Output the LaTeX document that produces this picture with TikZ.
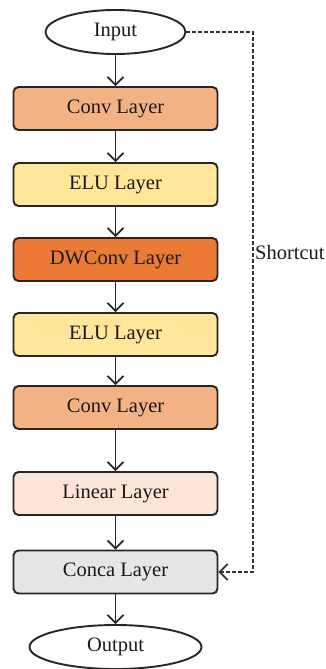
\documentclass[tikz,border=0pt]{standalone}
\usepackage{fontspec}
\setmainfont{Liberation Serif}
\usetikzlibrary{arrows.meta,shapes.geometric}
\definecolor{convc}{HTML}{F4B183}
\definecolor{eluc}{HTML}{FFE699}
\definecolor{dwc}{HTML}{EC7A34}
\definecolor{linc}{HTML}{FBE5D6}
\definecolor{concc}{HTML}{E6E6E6}
\tikzset{
  txt/.style={font=\fontsize{20.5}{24}\selectfont, text=black!90},
  layer/.style={txt, draw=black!85, line width=1.9pt, rounded corners=5pt, minimum width=204pt, minimum height=43pt, inner sep=0pt},
  term/.style={txt, draw=black!85, line width=1.9pt, ellipse, inner sep=0pt},
  flow/.style={line width=1.7pt, draw=black!85, -{Straight Barb[length=8pt,width=16pt,line width=1.7pt]}},
  short/.style={line width=1.7pt, draw=black!80, dash pattern=on 4pt off 2pt, -{Straight Barb[length=8pt,width=16pt,line width=1.7pt]}}
}
\begin{document}
\begin{tikzpicture}[x=1pt,y=-1pt]
\useasboundingbox (0,0) rectangle (325,669);
\node[term, minimum width=140pt, minimum height=44pt] (in) at (115.5,32) {Input};
\node[layer, fill=convc] (c1) at (115.5,108.5) {Conv Layer};
\node[layer, fill=eluc] (e1) at (115.5,184.5) {ELU Layer};
\node[layer, fill=dwc] (dw) at (115.5,259.5) {DWConv Layer};
\node[layer, fill=eluc] (e2) at (115.5,334.5) {ELU Layer};
\node[layer, fill=convc] (c2) at (115.5,407.5) {Conv Layer};
\node[layer, fill=linc] (li) at (115.5,493.5) {Linear Layer};
\node[layer, fill=concc] (cc) at (115.5,572) {Conca Layer};
\node[term, minimum width=172pt, minimum height=44pt] (out) at (115.5,647) {Output};
\draw[flow] (in) -- (c1);
\draw[flow] (c1) -- (e1);
\draw[flow] (e1) -- (dw);
\draw[flow] (dw) -- (e2);
\draw[flow] (e2) -- (c2);
\draw[flow] (c2) -- (li);
\draw[flow] (li) -- (cc);
\draw[flow] (cc) -- (out);
\coordinate (tr) at (253,32);
\coordinate (br) at (253,572);
\draw[short] (in.east) -- (tr) -- (br) -- (cc.east);
\node[txt, anchor=west, inner sep=0pt] (sc) at (255,252) {Shortcut};
\end{tikzpicture}
\end{document}
